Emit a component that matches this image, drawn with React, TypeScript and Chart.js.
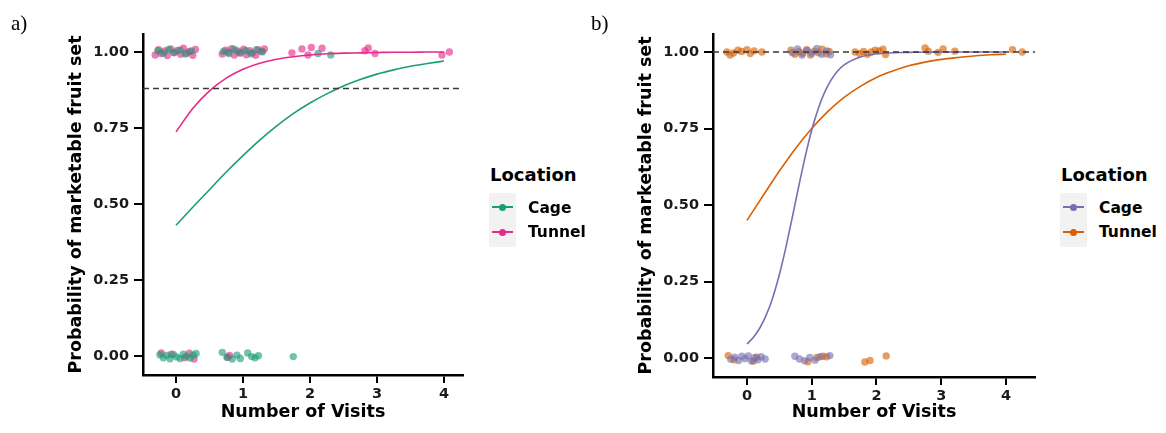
import React, { useEffect, useRef } from "react";
import { Chart, registerables } from "chart.js";

Chart.register(...registerables);

// Axis ticks
const visitTicks = [0, 1, 2, 3, 4];
const probTicks = [0, 0.25, 0.5, 0.75, 1];

// Colours (Dark2)
const GREEN = "#1B9E77";
const PINK = "#E7298A";
const PURPLE = "#7570B3";
const ORANGE = "#D95F02";

// ---------- Panel a: observed (jittered) outcomes ----------
const cageVisitsA = [
  -0.27, -0.19, -0.11, -0.03, 0.06, 0.14, 0.23, 0.71, 0.79, 0.87, 0.95, 1.04, 1.12, 1.2, 1.29, 2.12, 2.31,
  -0.24, -0.19, -0.14, -0.09, -0.04, 0.01, 0.06, 0.11, 0.16, 0.21, 0.26, 0.3,
  0.69, 0.76, 0.84, 0.91, 0.96, 1.07, 1.13, 1.18, 1.23, 1.75,
];
const cageOutcomeA = [
  1.004, 0.996, 1.008, 0.999, 1.006, 0.993, 1.003, 1.002, 0.995, 1.009, 0.998, 1.004, 0.994, 1.007, 1.001, 0.995, 0.99,
  0.004, -0.006, 0.002, -0.009, 0.005, -0.003, -0.008, 0.006, -0.001, -0.007, 0.003, 0.008,
  0.012, -0.004, -0.01, 0.003, -0.008, 0.01, -0.002, -0.006, 0.001, -0.002,
];
const tunnelVisitsA = [
  -0.31, -0.26, -0.22, -0.17, -0.13, -0.08, -0.03, 0.02, 0.07, 0.11, 0.16, 0.2, 0.25, 0.29,
  0.69, 0.74, 0.78, 0.83, 0.87, 0.92, 0.96, 1.01, 1.05, 1.1, 1.14, 1.19, 1.23, 1.28, 1.32,
  1.73, 1.88, 1.97, 2.02, 2.18, 2.82, 2.87, 2.97, 3.97, 4.08,
  -0.22, -0.07, 0.13, 0.2, 0.27, 0.77, 0.8,
];
const tunnelOutcomeA = [
  0.99, 1.007, 0.995, 1.003, 0.988, 1.01, 0.997, 1.005, 0.992, 1.012, 0.996, 1.002, 0.989, 1.008,
  0.993, 1.006, 0.998, 1.011, 0.99, 1.003, 0.996, 1.009, 0.991, 1.004, 0.997, 0.989, 1.007, 1.001, 1.01,
  0.997, 1.01, 0.99, 1.015, 1.012, 1.004, 1.013, 0.995, 0.99, 1.0,
  0.01, 0.006, -0.006, 0.009, -0.01, -0.004, 0.002,
];

// ---------- Panel a: fitted probabilities ----------
const fitVisitsA = [0, 0.25, 0.5, 0.75, 1, 1.25, 1.5, 1.75, 2, 2.25, 2.5, 2.75, 3, 3.25, 3.5, 3.75, 4];
const cageFitA = [0.43, 0.489, 0.547, 0.605, 0.659, 0.71, 0.756, 0.797, 0.832, 0.862, 0.888, 0.909, 0.927, 0.941, 0.953, 0.962, 0.97];
const tunnelFitA = [0.737, 0.814, 0.872, 0.914, 0.943, 0.963, 0.976, 0.984, 0.99, 0.994, 0.996, 0.997, 0.998, 0.999, 0.999, 1.0, 1.0];
const thresholdA = 0.88;

// ---------- Panel b: observed (jittered) outcomes ----------
const cageVisitsB = [
  0.7, 0.78, 0.85, 0.93, 1.0, 1.08, 1.15, 1.23, 1.29,
  -0.25, -0.19, -0.13, -0.08, -0.03, 0.02, 0.07, 0.12, 0.17, 0.22, 0.28,
  0.74, 0.81, 0.89, 0.97, 1.05, 1.13, 1.28,
];
const cageOutcomeB = [
  0.998, 1.01, 0.99, 1.005, 0.996, 1.012, 0.993, 1.004, 0.991,
  -0.004, 0.003, -0.008, 0.006, -0.002, 0.007, -0.01, 0.002, -0.006, 0.004, -0.003,
  0.006, -0.003, -0.009, 0.002, -0.007, 0.004, 0.008,
];
const tunnelVisitsB = [
  -0.31, -0.26, -0.21, -0.14, -0.08, 0.0, 0.05, 0.11, 0.23,
  0.68, 0.74, 0.8, 0.86, 0.92, 0.98, 1.04, 1.1, 1.16, 1.22, 1.27,
  1.67, 1.74, 1.8, 1.86, 1.92, 1.98, 2.04, 2.1, 2.14,
  2.75, 2.8, 2.95, 3.03, 3.21, 4.1, 4.25,
  -0.29, -0.2, 0.1, 0.15, 0.94, 1.08, 1.17, 1.23, 1.82, 1.9, 2.15,
];
const tunnelOutcomeB = [
  1.0, 0.99, 0.997, 1.006, 1.002, 1.008, 0.995, 1.004, 1.0,
  1.006, 0.993, 1.001, 0.996, 1.008, 0.99, 1.003, 0.998, 1.009, 0.994, 1.002,
  1.0, 0.995, 1.002, 0.993, 1.0, 1.006, 1.004, 1.009, 0.992,
  1.013, 1.003, 0.999, 1.01, 1.003, 1.008, 1.0,
  0.008, -0.006, -0.01, 0.003, -0.012, 0.002, 0.006, 0.004, -0.013, -0.008, 0.007,
];

// ---------- Panel b: fitted probabilities ----------
const cageFitVisitsB = [0, 0.1, 0.2, 0.3, 0.4, 0.5, 0.6, 0.7, 0.8, 0.9, 1.0, 1.1, 1.2, 1.3, 1.4, 1.5, 1.75, 2, 2.5, 3, 3.5, 4];
const cageFitB = [0.046, 0.068, 0.099, 0.142, 0.199, 0.273, 0.361, 0.46, 0.562, 0.659, 0.745, 0.815, 0.869, 0.909, 0.938, 0.958, 0.984, 0.994, 0.999, 1.0, 1.0, 1.0];
const tunnelFitVisitsB = [0, 0.25, 0.5, 0.75, 1, 1.25, 1.5, 1.75, 2, 2.25, 2.5, 2.75, 3, 3.25, 3.5, 3.75, 4];
const tunnelFitB = [0.45, 0.531, 0.611, 0.685, 0.75, 0.806, 0.852, 0.888, 0.917, 0.938, 0.955, 0.967, 0.976, 0.982, 0.987, 0.991, 0.993];
const thresholdB = 1.0;

const FONT = "'DejaVu Sans', 'Liberation Sans', Arial, sans-serif";

function pairs(xs: number[], ys: number[]) {
  return xs.map((x, i) => ({ x, y: ys[i] }));
}

function alpha(hex: string, a: number) {
  const n = parseInt(hex.slice(1), 16);
  return `rgba(${(n >> 16) & 255},${(n >> 8) & 255},${n & 255},${a})`;
}

type PanelSpec = {
  xMin: number;
  xMax: number;
  yMin: number;
  yMax: number;
  padLeft: number;
  padRight: number;
  xAxisHeight: number;
  series: { color: string; visits: number[]; outcome: number[]; fitX: number[]; fitY: number[] }[];
  threshold: number;
};

function buildConfig(p: PanelSpec): any {
  const datasets: any[] = [];
  p.series.forEach((s) => {
    datasets.push({
      type: "scatter",
      data: pairs(s.visits, s.outcome),
      backgroundColor: alpha(s.color, 0.62),
      borderWidth: 0,
      pointRadius: 3.7,
      order: 2,
    });
  });
  p.series.forEach((s) => {
    datasets.push({
      type: "line",
      data: pairs(s.fitX, s.fitY),
      borderColor: s.color,
      borderWidth: 1.6,
      pointRadius: 0,
      fill: false,
      cubicInterpolationMode: "monotone",
      order: 1,
    });
  });
  datasets.push({
    type: "line",
    data: [
      { x: p.xMin, y: p.threshold },
      { x: p.xMax, y: p.threshold },
    ],
    borderColor: "#3a3a3a",
    borderWidth: 1.4,
    borderDash: [6, 4],
    pointRadius: 0,
    fill: false,
    order: 0,
  });

  const tickFont = { family: FONT, size: 14.5, weight: "bold" as const };
  const titleFont = { family: FONT, size: 17.5, weight: "bold" as const };

  return {
    type: "scatter",
    data: { datasets },
    options: {
      animation: false,
      responsive: false,
      devicePixelRatio: 1,
      layout: { padding: { left: p.padLeft, top: 34, right: p.padRight, bottom: 0 } },
      plugins: { legend: { display: false }, tooltip: { enabled: false } },
      scales: {
        x: {
          type: "linear",
          min: p.xMin,
          max: p.xMax,
          afterFit: (s: any) => {
            s.height = p.xAxisHeight;
          },
          afterBuildTicks: (s: any) => {
            s.ticks = visitTicks.map((v) => ({ value: v }));
          },
          ticks: { font: tickFont, color: "#1a1a1a", padding: 3, callback: (v: any) => String(v) },
          grid: { drawOnChartArea: false, drawTicks: true, tickLength: 8, color: "#000", lineWidth: 2 },
          border: { display: true, color: "#000", width: 2.5 },
          title: { display: true, text: "Number of Visits", font: titleFont, color: "#000", padding: { top: 0, bottom: 10 } },
        },
        y: {
          type: "linear",
          min: p.yMin,
          max: p.yMax,
          afterFit: (s: any) => {
            s.width = 83;
          },
          afterBuildTicks: (s: any) => {
            s.ticks = probTicks.map((v) => ({ value: v }));
          },
          ticks: { font: tickFont, color: "#1a1a1a", padding: 5, callback: (v: any) => Number(v).toFixed(2) },
          grid: { drawOnChartArea: false, drawTicks: true, tickLength: 9, color: "#000", lineWidth: 2 },
          border: { display: true, color: "#000", width: 2.5 },
          title: {
            display: true,
            text: "Probability of marketable fruit set",
            font: titleFont,
            color: "#000",
            padding: { top: 6, bottom: 0 },
          },
        },
      },
    },
  };
}

function ChartCanvas({ spec, width, height }: { spec: PanelSpec; width: number; height: number }) {
  const ref = useRef<HTMLCanvasElement | null>(null);
  useEffect(() => {
    if (!ref.current) return;
    const chart = new Chart(ref.current, buildConfig(spec));
    return () => chart.destroy();
  }, [spec]);
  return <canvas ref={ref} width={width} height={height} style={{ display: "block", width, height }} />;
}

function Legend({ left, items }: { left: number; items: { label: string; color: string }[] }) {
  const keyYs = [207, 232];
  const textTops = [201, 225];
  return (
    <>
      <div
        style={{
          position: "absolute",
          left: left + 1,
          top: 166,
          font: `bold 18px ${FONT}`,
          lineHeight: "18px",
          color: "#000",
          whiteSpace: "nowrap",
        }}
      >
        Location
      </div>
      <div style={{ position: "absolute", left, top: 193, width: 27, height: 54, background: "#f2f2f2" }} />
      {items.map((it, i) => (
        <React.Fragment key={it.label}>
          <div
            style={{ position: "absolute", left: left + 3, top: keyYs[i] - 1, width: 21, height: 2, background: it.color }}
          />
          <div
            style={{
              position: "absolute",
              left: left + 10,
              top: keyYs[i] - 3.5,
              width: 7,
              height: 7,
              borderRadius: "50%",
              background: it.color,
            }}
          />
          <div
            style={{
              position: "absolute",
              left: left + 39,
              top: textTops[i],
              font: `bold 15.5px ${FONT}`,
              lineHeight: "15.5px",
              color: "#000",
              whiteSpace: "nowrap",
            }}
          >
            {it.label}
          </div>
        </React.Fragment>
      ))}
    </>
  );
}

const panelA: PanelSpec = {
  xMin: -0.4925,
  xMax: 4.284,
  yMin: -0.0625,
  yMax: 1.059,
  padLeft: 60,
  padRight: 7,
  xAxisHeight: 58,
  threshold: thresholdA,
  series: [
    { color: GREEN, visits: cageVisitsA, outcome: cageOutcomeA, fitX: fitVisitsA, fitY: cageFitA },
    { color: PINK, visits: tunnelVisitsA, outcome: tunnelOutcomeA, fitX: fitVisitsA, fitY: tunnelFitA },
  ],
};

const panelB: PanelSpec = {
  xMin: -0.525,
  xMax: 4.448,
  yMin: -0.062,
  yMax: 1.059,
  padLeft: 50,
  padRight: 5,
  xAxisHeight: 56,
  threshold: thresholdB,
  series: [
    { color: PURPLE, visits: cageVisitsB, outcome: cageOutcomeB, fitX: cageFitVisitsB, fitY: cageFitB },
    { color: ORANGE, visits: tunnelVisitsB, outcome: tunnelOutcomeB, fitX: tunnelFitVisitsB, fitY: tunnelFitB },
  ],
};

const panelLabelStyle: React.CSSProperties = {
  position: "absolute",
  top: 13,
  font: "21px 'Liberation Serif', 'Times New Roman', serif",
  lineHeight: "21px",
  color: "#000",
};

export default function App() {
  return (
    <div
      style={{
        position: "absolute",
        left: 0,
        top: 0,
        width: 1166,
        height: 433,
        background: "#fff",
        overflow: "hidden",
      }}
    >
      <div style={{ position: "absolute", left: 0, top: 0 }}>
        <ChartCanvas spec={panelA} width={470} height={433} />
      </div>
      <div style={{ position: "absolute", left: 580, top: 0 }}>
        <ChartCanvas spec={panelB} width={460} height={433} />
      </div>
      <div style={{ ...panelLabelStyle, left: 11 }}>a)</div>
      <div style={{ ...panelLabelStyle, left: 591 }}>b)</div>
      <Legend
        left={489}
        items={[
          { label: "Cage", color: GREEN },
          { label: "Tunnel", color: PINK },
        ]}
      />
      <Legend
        left={1060}
        items={[
          { label: "Cage", color: PURPLE },
          { label: "Tunnel", color: ORANGE },
        ]}
      />
    </div>
  );
}
